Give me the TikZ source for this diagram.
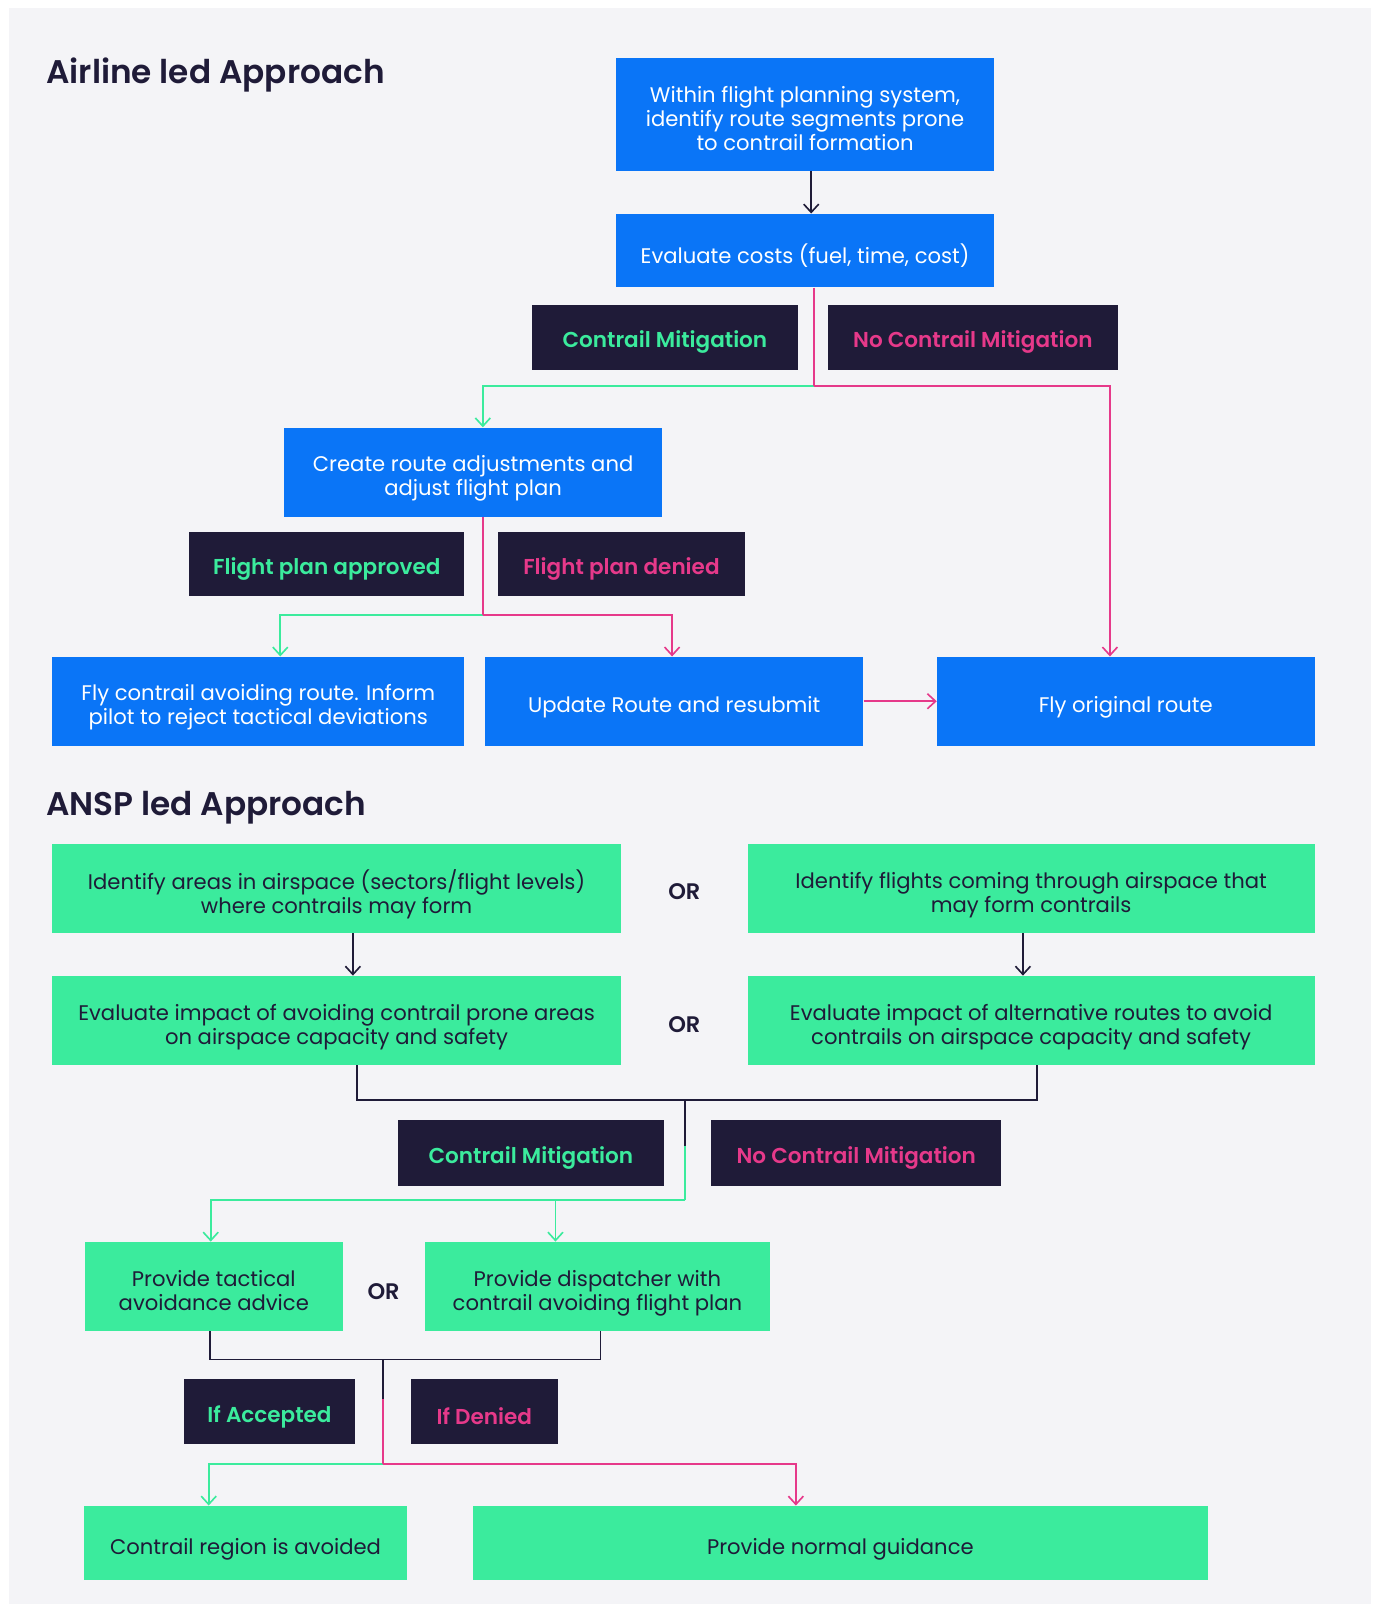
\documentclass[tikz,border=0pt]{standalone}
\usepackage{fontspec}
\setmainfont{Poppins}[BoldFont={Poppins SemiBold}]
\usetikzlibrary{arrows.meta}
\definecolor{bgc}{HTML}{F4F4F7}
\definecolor{blu}{HTML}{0A75F7}
\definecolor{grn}{HTML}{3BEB9D}
\definecolor{nav}{HTML}{1F1B38}
\definecolor{pnk}{HTML}{E6398A}
\newcommand{\boxfont}{\fontsize{15.5}{17.6}\selectfont}
\newcommand{\labfont}{\fontsize{15.8}{18}\selectfont\bfseries}
\newcommand{\ttlfont}{\fontsize{24}{28}\selectfont\bfseries}
\newcommand{\orfont}{\fontsize{16.5}{18}\selectfont\bfseries}
% text lowered inside its box, keeping the box's nominal size
\newcommand{\tx}[1]{\raisebox{-5pt}[\height][\depth]{\begin{tabular}{@{}c@{}}#1\end{tabular}}}
\newcommand{\lx}[1]{\raisebox{-3.5pt}[\height][\depth]{#1}}
\begin{document}
\begin{tikzpicture}[x=0.75pt,y=-0.75pt,
  sz/.style 2 args={minimum width=#1, minimum height=#2},
  bluebox/.style={fill=blu, text=white, font=\boxfont, inner sep=0pt},
  greenbox/.style={fill=grn, text=nav, font=\boxfont, inner sep=0pt},
  glab/.style={fill=nav, text=grn, font=\labfont, inner sep=0pt},
  plab/.style={fill=nav, text=pnk, font=\labfont, inner sep=0pt},
  ttl/.style={anchor=west, text=nav, font=\ttlfont, inner sep=0pt},
  ortxt/.style={text=nav, font=\orfont, inner sep=0pt},
  tip/.style={-{Straight Barb[length=6pt,width=11pt,line width=1.2pt]}},
  dline/.style={draw=nav, line width=1.4pt},
  darr/.style={dline, tip},
  gline/.style={draw=grn, line width=1.4pt},
  garr/.style={gline, tip},
  pline/.style={draw=pnk, line width=1.4pt},
  parr/.style={pline, tip}]
\useasboundingbox (0,0) rectangle (1345,1568);
\fill[bgc] (9,8) rectangle (1340,1568);

% ---------- Airline led Approach ----------
\node[ttl] (t1) at (45,73) {Airline led Approach};
\node[bluebox, sz={277.5pt}{82.5pt}] (top) at (787,112)
  {\tx{Within flight planning system,\\identify route segments prone\\to contrail formation}};
\node[bluebox, sz={277.5pt}{54pt}] (eval) at (787,245) {\tx{Evaluate costs (fuel, time, cost)}};
\node[glab, sz={195pt}{48pt}] (cm1) at (650,330) {\lx{Contrail Mitigation}};
\node[plab, sz={213pt}{48pt}] (ncm1) at (951,330) {\lx{No Contrail Mitigation}};
\node[bluebox, sz={276.75pt}{65.25pt}] (create) at (462.5,461.5)
  {\tx{Create route adjustments and\\adjust flight plan}};
\node[glab, sz={201.75pt}{47.25pt}] (fpa) at (319.5,551.5) {\lx{Flight plan approved}};
\node[plab, sz={180.75pt}{47.25pt}] (fpd) at (607.5,551.5) {\lx{Flight plan denied}};
\node[bluebox, sz={302.25pt}{65.25pt}] (flyc) at (252.5,685.5)
  {\tx{Fly contrail avoiding route. Inform\\pilot to reject tactical deviations}};
\node[bluebox, sz={277.5pt}{65.25pt}] (update) at (659,685.5) {\tx{Update Route and resubmit}};
\node[bluebox, sz={276.75pt}{65.25pt}] (flyo) at (1100.5,685.5) {\tx{Fly original route}};

\coordinate (j1) at (796,377);
\coordinate (j2) at (472,601);
\draw[darr] ([xshift=4.5pt]top.south) -- ([xshift=4.5pt]eval.north);
\draw[garr] (j1) -| ([xshift=7.125pt]create.north);
\draw[pline] ([xshift=6.75pt]eval.south) -- (j1);
\draw[parr] (j1) -| ([xshift=-11.625pt]flyo.north);
\draw[garr] (j2) -| ([xshift=16.125pt]flyc.north);
\draw[pline] ([xshift=7.125pt]create.south) -- (j2);
\draw[parr] (j2) -| ([xshift=-1.5pt]update.north);
\draw[parr] (update.east) -- (flyo.west);

% ---------- ANSP led Approach ----------
\node[ttl] (t2) at (45,790) {ANSP led Approach};
\node[greenbox, sz={417pt}{65.25pt}] (a1) at (329,868.5)
  {\tx{Identify areas in airspace (sectors/flight levels)\\where contrails may form}};
\node[ortxt] (or1) at (669,872) {OR};
\node[greenbox, sz={415.5pt}{65.25pt}] (b1) at (1008,868.5)
  {\tx{Identify flights coming through airspace that\\may form contrails}};
\node[greenbox, sz={417pt}{65.25pt}] (a2) at (329,997.5)
  {\tx{Evaluate impact of avoiding contrail prone areas\\on airspace capacity and safety}};
\node[ortxt] (or2) at (669,1002) {OR};
\node[greenbox, sz={415.5pt}{65.25pt}] (b2) at (1008,997.5)
  {\tx{Evaluate impact of alternative routes to avoid\\contrails on airspace capacity and safety}};
\node[glab, sz={195pt}{48pt}] (cm2) at (519,1127) {\lx{Contrail Mitigation}};
\node[plab, sz={213pt}{48pt}] (ncm2) at (837,1127) {\lx{No Contrail Mitigation}};
\node[greenbox, sz={189pt}{65.25pt}] (tact) at (209,1257.5)
  {\tx{Provide tactical\\avoidance advice}};
\node[ortxt] (or3) at (375,1263) {OR};
\node[greenbox, sz={253.5pt}{65.25pt}] (disp) at (584,1257.5)
  {\tx{Provide dispatcher with\\contrail avoiding flight plan}};
\node[glab, sz={125.25pt}{48pt}] (ifa) at (263.5,1380) {\lx{If Accepted}};
\node[plab, sz={107.25pt}{48pt}] (ifd) at (473.5,1380) {\lx{If Denied}};
\node[greenbox, sz={237pt}{54.75pt}] (region) at (240,1508.5) {\tx{Contrail region is avoided}};
\node[greenbox, sz={539.25pt}{54.75pt}] (normal) at (821.5,1508.5) {\tx{Provide normal guidance}};

\draw[darr] ([xshift=12pt]a1.south) -- ([xshift=12pt]a2.north);
\draw[darr] ([xshift=-6pt]b1.south) -- ([xshift=-6pt]b2.north);

\coordinate (j3) at (670,1075);
\coordinate (j4) at (670,1120);
\coordinate (j5) at (670,1173);
\coordinate (j6) at (543,1173);
\draw[dline] ([xshift=15pt]a2.south) |- (j3) -| ([xshift=4.5pt]b2.south);
\draw[dline] (j3) -- (j4);
\draw[gline] (j4) -- (j5);
\draw[garr] (j5) -| ([xshift=-2.25pt]tact.north);
\draw[garr] (j6) -- ([xshift=-30.75pt]disp.north);

\coordinate (j7) at (374,1329);
\coordinate (j8) at (374,1368);
\coordinate (j9) at (374,1431);
\draw[dline] ([xshift=-3pt]tact.south) |- (j7) -| ([xshift=2.25pt]disp.south);
\draw[dline] (j7) -- (j8);
\draw[garr] (j9) -| ([xshift=-27pt]region.north);
\draw[pline] (j8) -- (j9);
\draw[parr] (j9) -| ([xshift=-32.625pt]normal.north);
\end{tikzpicture}
\end{document}
